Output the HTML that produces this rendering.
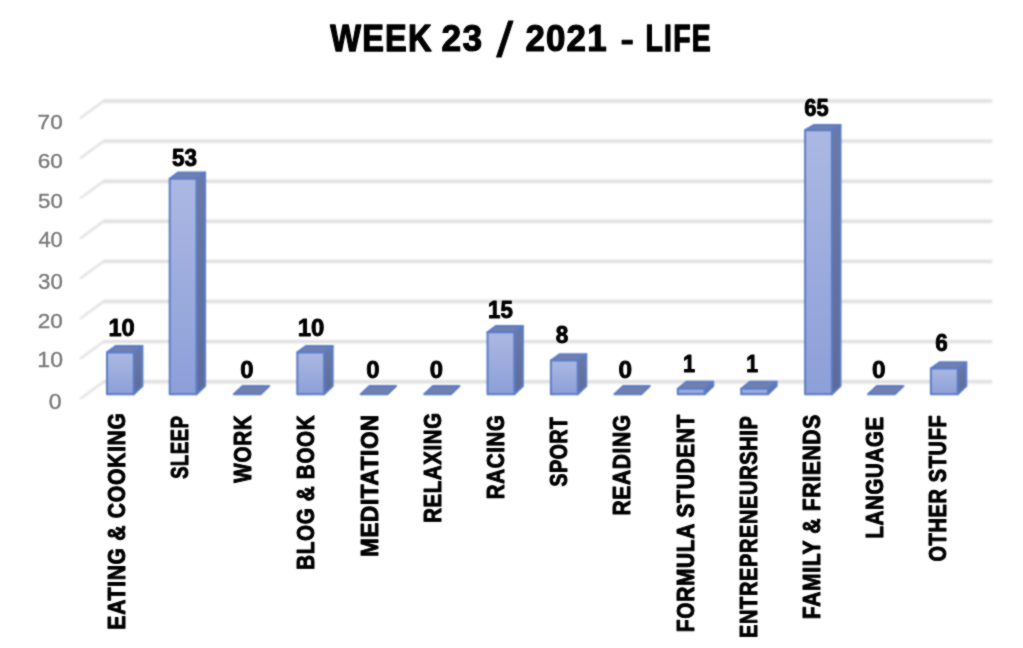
<!DOCTYPE html>
<html lang="en"><head><meta charset="utf-8"><title>WEEK 23 / 2021 - LIFE</title>
<style>html,body{margin:0;padding:0;background:#fff}body{width:1023px;height:648px;overflow:hidden}svg{display:block}text{font-family:"Liberation Sans",sans-serif;stroke-linejoin:round}.b{font-weight:bold;fill:#000;stroke:#000}.r{fill:#000;stroke:#000}.ax{fill:#7b7b7b;stroke:#7b7b7b}</style></head><body>
<svg width="1023" height="648" viewBox="0 0 1023 648">
<defs><linearGradient id="gf" x1="0" y1="0" x2="0" y2="1"><stop offset="0" stop-color="#abb8e2"/><stop offset="1" stop-color="#8c9fd8"/></linearGradient><linearGradient id="gs" x1="0" y1="0" x2="0" y2="1"><stop offset="0" stop-color="#6b79a6"/><stop offset="1" stop-color="#5d6b9a"/></linearGradient>
<filter id="bl" filterUnits="userSpaceOnUse" x="0" y="0" width="1023" height="648" color-interpolation-filters="sRGB"><feGaussianBlur stdDeviation="1.00"/></filter>
<filter id="tb" filterUnits="userSpaceOnUse" x="0" y="0" width="1023" height="648" color-interpolation-filters="sRGB"><feConvolveMatrix order="3" kernelMatrix="1 2 1 2 14 2 1 2 1" edgeMode="duplicate" preserveAlpha="false"/></filter>
<filter id="mb" filterUnits="userSpaceOnUse" x="0" y="0" width="1023" height="648" color-interpolation-filters="sRGB"><feConvolveMatrix order="3" kernelMatrix="1 2 1 2 4 2 1 2 1" edgeMode="duplicate" preserveAlpha="false"/></filter>
</defs>
<rect width="1023" height="648" fill="#fff"/>
<g>
<g id="title" filter="url(#tb)">
<text class="b" font-size="100" stroke-width="3.43" letter-spacing="3.69" transform="matrix(0.3254,0,0,0.3753,330.32,51.40)">WEEK</text>
<text class="b" font-size="100" stroke-width="3.32" letter-spacing="3.40" transform="matrix(0.3529,0,0,0.3704,441.56,51.24)">23</text>
<text class="r" font-size="100" stroke-width="1.65" transform="matrix(0.5982,0,0,0.4925,496.45,56.96)">/</text>
<text class="b" font-size="100" stroke-width="3.33" letter-spacing="3.44" transform="matrix(0.3491,0,0,0.3717,525.38,51.33)">2021</text>
<text class="b" font-size="100" stroke-width="3.45" letter-spacing="3.09" transform="matrix(0.3881,0,0,0.3083,620.85,49.77)">-</text>
<text class="b" font-size="100" stroke-width="3.64" letter-spacing="4.22" transform="matrix(0.2845,0,0,0.3753,645.48,51.40)">LIFE</text>
</g>
<g id="grid" fill="none" filter="url(#bl)">
<line x1="80.6" y1="398.6" x2="103.6" y2="381.7" stroke="#d6d6d6" stroke-width="1.7" stroke-linecap="round"/>
<line x1="103.1" y1="381.7" x2="992.2" y2="381.7" stroke="#dfdfdf" stroke-width="3.4"/>
<line x1="80.6" y1="358.5" x2="103.6" y2="341.6" stroke="#d6d6d6" stroke-width="1.7" stroke-linecap="round"/>
<line x1="103.1" y1="341.6" x2="992.2" y2="341.6" stroke="#dfdfdf" stroke-width="3.4"/>
<line x1="80.6" y1="318.4" x2="103.6" y2="301.5" stroke="#d6d6d6" stroke-width="1.7" stroke-linecap="round"/>
<line x1="103.1" y1="301.5" x2="992.2" y2="301.5" stroke="#dfdfdf" stroke-width="3.4"/>
<line x1="80.6" y1="278.3" x2="103.6" y2="261.4" stroke="#d6d6d6" stroke-width="1.7" stroke-linecap="round"/>
<line x1="103.1" y1="261.4" x2="992.2" y2="261.4" stroke="#dfdfdf" stroke-width="3.4"/>
<line x1="80.6" y1="238.2" x2="103.6" y2="221.3" stroke="#d6d6d6" stroke-width="1.7" stroke-linecap="round"/>
<line x1="103.1" y1="221.3" x2="992.2" y2="221.3" stroke="#dfdfdf" stroke-width="3.4"/>
<line x1="80.6" y1="198.1" x2="103.6" y2="181.2" stroke="#d6d6d6" stroke-width="1.7" stroke-linecap="round"/>
<line x1="103.1" y1="181.2" x2="992.2" y2="181.2" stroke="#dfdfdf" stroke-width="3.4"/>
<line x1="80.6" y1="158.0" x2="103.6" y2="141.1" stroke="#d6d6d6" stroke-width="1.7" stroke-linecap="round"/>
<line x1="103.1" y1="141.1" x2="992.2" y2="141.1" stroke="#dfdfdf" stroke-width="3.4"/>
<line x1="80.6" y1="117.9" x2="103.6" y2="101.0" stroke="#d6d6d6" stroke-width="1.7" stroke-linecap="round"/>
<line x1="103.1" y1="101.0" x2="992.2" y2="101.0" stroke="#dfdfdf" stroke-width="3.4"/>
</g>
<g id="axis" filter="url(#tb)">
<text class="ax" font-size="100" stroke-width="1.80" transform="matrix(0.2304,0,0,0.2148,48.78,408.69)">0</text>
<text class="ax" font-size="100" stroke-width="1.78" transform="matrix(0.2306,0,0,0.2177,37.37,366.78)">10</text>
<text class="ax" font-size="100" stroke-width="1.84" transform="matrix(0.2249,0,0,0.2106,37.78,327.89)">20</text>
<text class="ax" font-size="100" stroke-width="1.83" transform="matrix(0.2222,0,0,0.2148,38.07,288.89)">30</text>
<text class="ax" font-size="100" stroke-width="1.84" transform="matrix(0.2190,0,0,0.2148,38.41,246.69)">40</text>
<text class="ax" font-size="100" stroke-width="1.86" transform="matrix(0.2228,0,0,0.2064,38.01,207.69)">50</text>
<text class="ax" font-size="100" stroke-width="1.85" transform="matrix(0.2249,0,0,0.2064,37.78,168.19)">60</text>
<text class="ax" font-size="100" stroke-width="1.83" transform="matrix(0.2255,0,0,0.2106,37.62,129.19)">70</text>
</g>
<g id="bars" stroke="#5b7cc8" stroke-width="2" stroke-linejoin="round" filter="url(#mb)">
<polygon fill="url(#gs)" points="133.8,394.3 142.4,386.1 142.4,346.1 133.8,352.4"/>
<polygon fill="#7280ad" points="107.0,352.4 115.6,346.1 142.4,346.1 133.8,352.4"/>
<rect fill="url(#gf)" x="107.0" y="352.4" width="26.8" height="41.9"/>
<polygon fill="url(#gs)" points="196.5,394.3 205.1,386.1 205.1,172.4 196.5,178.7"/>
<polygon fill="#7280ad" points="169.7,178.7 178.3,172.4 205.1,172.4 196.5,178.7"/>
<rect fill="url(#gf)" x="169.7" y="178.7" width="26.8" height="215.6"/>
<polygon fill="#7280ad" points="233.8,394.3 242.4,386.1 269.2,386.1 260.6,394.3"/>
<polygon fill="url(#gs)" points="324.1,394.3 332.7,386.1 332.7,346.1 324.1,352.4"/>
<polygon fill="#7280ad" points="297.3,352.4 305.9,346.1 332.7,346.1 324.1,352.4"/>
<rect fill="url(#gf)" x="297.3" y="352.4" width="26.8" height="41.9"/>
<polygon fill="#7280ad" points="360.7,394.3 369.3,386.1 396.1,386.1 387.5,394.3"/>
<polygon fill="#7280ad" points="424.1,394.3 432.7,386.1 459.5,386.1 450.9,394.3"/>
<polygon fill="url(#gs)" points="514.3,394.3 522.9,386.1 522.9,325.9 514.3,332.2"/>
<polygon fill="#7280ad" points="487.5,332.2 496.1,325.9 522.9,325.9 514.3,332.2"/>
<rect fill="url(#gf)" x="487.5" y="332.2" width="26.8" height="62.1"/>
<polygon fill="url(#gs)" points="577.7,394.3 586.3,386.1 586.3,354.2 577.7,360.5"/>
<polygon fill="#7280ad" points="550.9,360.5 559.5,354.2 586.3,354.2 577.7,360.5"/>
<rect fill="url(#gf)" x="550.9" y="360.5" width="26.8" height="33.8"/>
<polygon fill="#7280ad" points="614.4,394.3 623.0,386.1 649.8,386.1 641.2,394.3"/>
<polygon fill="url(#gs)" points="704.6,394.3 713.2,386.1 713.2,381.8 704.6,388.8"/>
<polygon fill="#7280ad" points="677.8,388.8 686.4,381.8 713.2,381.8 704.6,388.8"/>
<rect fill="url(#gf)" x="677.8" y="388.8" width="26.8" height="5.5"/>
<polygon fill="url(#gs)" points="768.0,394.3 776.6,386.1 776.6,381.8 768.0,388.8"/>
<polygon fill="#7280ad" points="741.2,388.8 749.8,381.8 776.6,381.8 768.0,388.8"/>
<rect fill="url(#gf)" x="741.2" y="388.8" width="26.8" height="5.5"/>
<polygon fill="url(#gs)" points="831.9,394.3 840.5,386.1 840.5,125.0 831.9,130.2"/>
<polygon fill="#7280ad" points="805.1,130.2 813.7,125.0 840.5,125.0 831.9,130.2"/>
<rect fill="url(#gf)" x="805.1" y="130.2" width="26.8" height="264.1"/>
<polygon fill="#7280ad" points="868.0,394.3 876.6,386.1 903.4,386.1 894.8,394.3"/>
<polygon fill="url(#gs)" points="957.7,394.3 966.3,386.1 966.3,362.3 957.7,368.6"/>
<polygon fill="#7280ad" points="930.9,368.6 939.5,362.3 966.3,362.3 957.7,368.6"/>
<rect fill="url(#gf)" x="930.9" y="368.6" width="26.8" height="25.7"/>
</g>
<g id="dl" filter="url(#tb)">
<text class="b" font-size="100" stroke-width="3.72" transform="matrix(0.2367,0,0,0.2473,108.47,335.55)">10</text>
<text class="b" font-size="100" stroke-width="3.82" transform="matrix(0.2249,0,0,0.2458,172.08,165.95)">53</text>
<text class="b" font-size="100" stroke-width="3.70" transform="matrix(0.2389,0,0,0.2473,240.24,377.55)">0</text>
<text class="b" font-size="100" stroke-width="3.70" transform="matrix(0.2392,0,0,0.2473,297.70,335.55)">10</text>
<text class="b" font-size="100" stroke-width="3.70" transform="matrix(0.2389,0,0,0.2473,366.24,377.55)">0</text>
<text class="b" font-size="100" stroke-width="3.70" transform="matrix(0.2389,0,0,0.2473,429.74,377.55)">0</text>
<text class="b" font-size="100" stroke-width="3.84" transform="matrix(0.2225,0,0,0.2458,488.06,317.85)">15</text>
<text class="b" font-size="100" stroke-width="3.82" transform="matrix(0.2254,0,0,0.2458,555.72,343.45)">8</text>
<text class="b" font-size="100" stroke-width="3.66" transform="matrix(0.2442,0,0,0.2473,618.47,377.55)">0</text>
<text class="b" font-size="100" stroke-width="3.94" transform="matrix(0.2172,0,0,0.2400,683.09,371.85)">1</text>
<text class="b" font-size="100" stroke-width="3.98" transform="matrix(0.2118,0,0,0.2400,746.13,371.85)">1</text>
<text class="b" font-size="100" stroke-width="3.95" transform="matrix(0.2191,0,0,0.2371,804.23,116.45)">65</text>
<text class="b" font-size="100" stroke-width="3.66" transform="matrix(0.2442,0,0,0.2473,871.97,377.55)">0</text>
<text class="b" font-size="100" stroke-width="3.82" transform="matrix(0.2249,0,0,0.2458,935.36,351.25)">6</text>
</g>
<g id="cats" filter="url(#tb)">
<text class="b" font-size="100" stroke-width="4.29" letter-spacing="3.31" transform="matrix(0,-0.2113,0.2320,0,124.83,629.65)">EATING &amp; COOKING</text>
<text class="b" font-size="100" stroke-width="4.58" letter-spacing="3.83" transform="matrix(0,-0.1826,0.2320,0,188.03,478.77)">SLEEP</text>
<text class="b" font-size="100" stroke-width="4.34" letter-spacing="3.40" transform="matrix(0,-0.2062,0.2320,0,251.22,482.68)">WORK</text>
<text class="b" font-size="100" stroke-width="4.34" letter-spacing="3.40" transform="matrix(0,-0.2059,0.2320,0,314.43,569.81)">BLOG &amp; BOOK</text>
<text class="b" font-size="100" stroke-width="4.17" letter-spacing="3.13" transform="matrix(0,-0.2237,0.2320,0,377.62,556.83)">MEDITATION</text>
<text class="b" font-size="100" stroke-width="4.37" letter-spacing="3.45" transform="matrix(0,-0.2031,0.2320,0,440.82,522.80)">RELAXING</text>
<text class="b" font-size="100" stroke-width="4.35" letter-spacing="3.42" transform="matrix(0,-0.2047,0.2320,0,504.03,499.21)">RACING</text>
<text class="b" font-size="100" stroke-width="4.47" letter-spacing="3.62" transform="matrix(0,-0.1932,0.2320,0,567.23,486.40)">SPORT</text>
<text class="b" font-size="100" stroke-width="4.31" letter-spacing="3.35" transform="matrix(0,-0.2092,0.2320,0,630.42,515.54)">READING</text>
<text class="b" font-size="100" stroke-width="4.31" letter-spacing="3.35" transform="matrix(0,-0.2087,0.2320,0,693.62,632.23)">FORMULA STUDENT</text>
<text class="b" font-size="100" stroke-width="4.41" letter-spacing="3.51" transform="matrix(0,-0.1992,0.2320,0,756.82,637.97)">ENTREPRENEURSHIP</text>
<text class="b" font-size="100" stroke-width="4.30" letter-spacing="3.33" transform="matrix(0,-0.2103,0.2320,0,820.02,619.14)">FAMILY &amp; FRIENDS</text>
<text class="b" font-size="100" stroke-width="4.35" letter-spacing="3.42" transform="matrix(0,-0.2045,0.2320,0,883.23,538.61)">LANGUAGE</text>
<text class="b" font-size="100" stroke-width="4.41" letter-spacing="3.52" transform="matrix(0,-0.1991,0.2320,0,946.42,561.62)">OTHER STUFF</text>
</g>
</g></svg></body></html>
